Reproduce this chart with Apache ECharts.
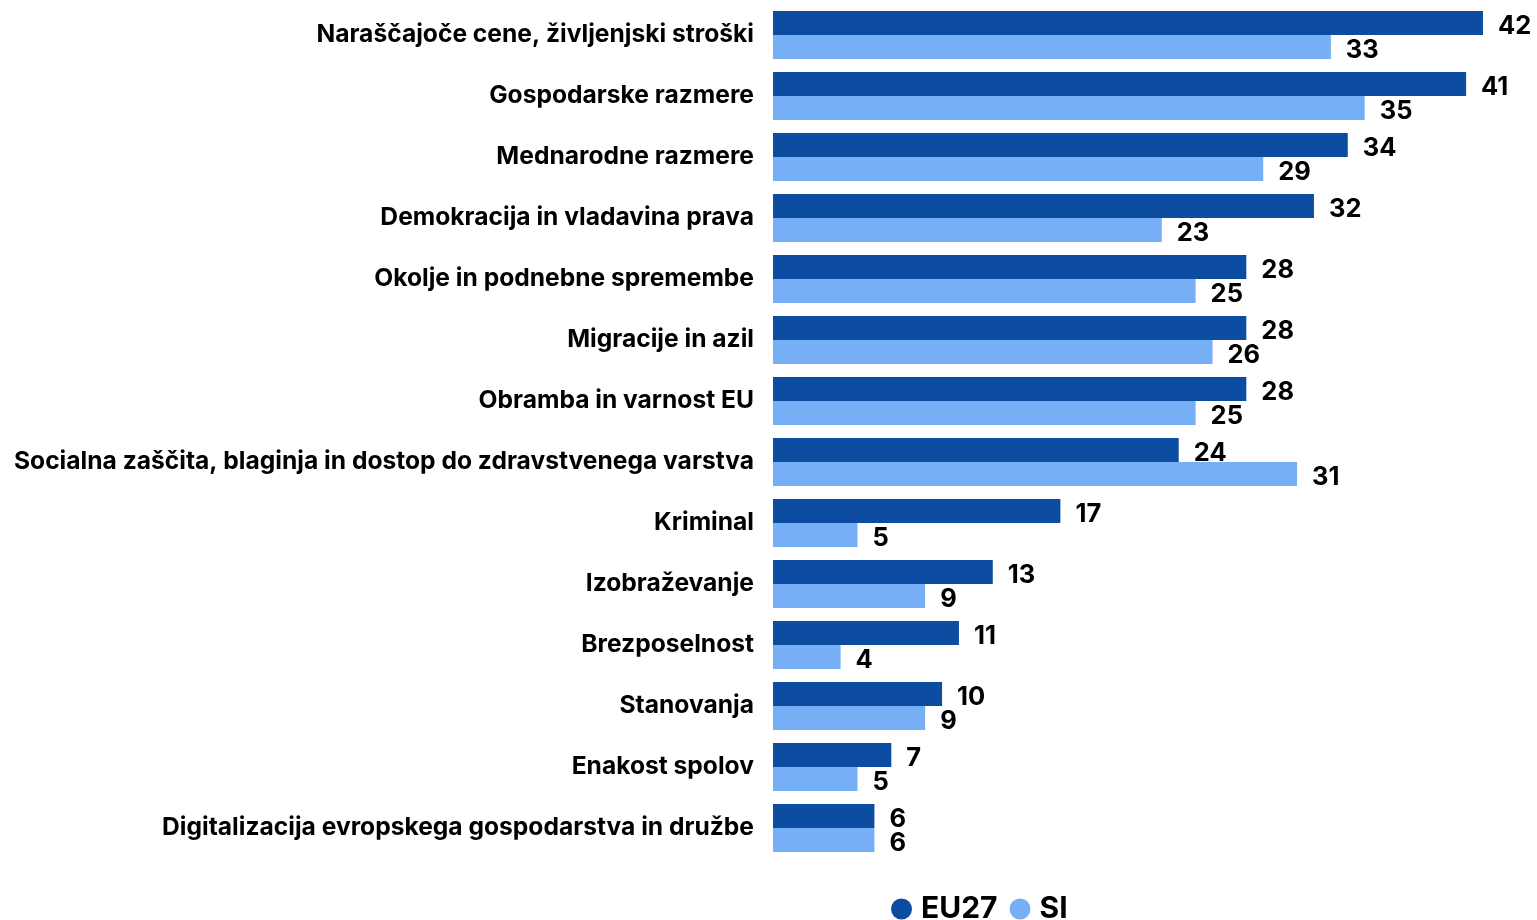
<!DOCTYPE html>
<html>
<head>
<meta charset="utf-8">
<script src="https://cdn.jsdelivr.net/npm/echarts@6/dist/echarts.min.js"></script>
<style>
  html, body { margin: 0; padding: 0; background: #fff; }
  #chart { width: 1537px; height: 920px; }
</style>
</head>
<body>
<div id="chart"></div>
<script>
// data
const categories = [
  'Naraščajoče cene, življenjski stroški',
  'Gospodarske razmere',
  'Mednarodne razmere',
  'Demokracija in vladavina prava',
  'Okolje in podnebne spremembe',
  'Migracije in azil',
  'Obramba in varnost EU',
  'Socialna zaščita, blaginja in dostop do zdravstvenega varstva',
  'Kriminal',
  'Izobraževanje',
  'Brezposelnost',
  'Stanovanja',
  'Enakost spolov',
  'Digitalizacija evropskega gospodarstva in družbe'
]
const eu27 = [42, 41, 34, 32, 28, 28, 28, 24, 17, 13, 11, 10, 7, 6]
const si = [33, 35, 29, 23, 25, 26, 25, 31, 5, 9, 4, 9, 5, 6]

const FONT = 'Inter, "Noto Sans", sans-serif'
const chart = echarts.init(document.getElementById('chart'))

const labelStyle = {
  show: true,
  position: 'right',
  distance: 15,
  offset: [0, 3],
  color: '#000',
  fontWeight: 'bold',
  fontSize: 25.5,
  fontFamily: FONT
}

const option = {
  animation: false,
  grid: {
    left: 773,
    right: 54,
    top: 4.5,
    height: 854,
    containLabel: false
  },
  legend: {
    top: 889,
    left: 886,
    icon: 'circle',
    itemWidth: 21,
    itemHeight: 21,
    itemGap: 12,
    textStyle: {
      fontSize: 30,
      fontWeight: 'bold',
      color: '#000',
      fontFamily: FONT,
      padding: [0, 0, 0, 4]
    },
    data: ['EU27', 'SI']
  },
  xAxis: {
    type: 'value',
    min: 0,
    max: 42,
    show: false
  },
  yAxis: {
    type: 'category',
    inverse: true,
    data: categories,
    axisLine: { show: false },
    axisTick: { show: false },
    axisLabel: {
      margin: 19,
      color: '#000',
      fontSize: 24.6,
      fontWeight: 'bold',
      fontFamily: FONT,
      padding: [4, 0, 0, 0]
    }
  },
  series: [
    {
      name: 'EU27',
      type: 'bar',
      data: eu27,
      barWidth: 24,
      barGap: '0%',
      itemStyle: { color: '#0c4da2' },
      label: labelStyle
    },
    {
      name: 'SI',
      type: 'bar',
      data: si,
      barWidth: 24,
      barGap: '0%',
      itemStyle: { color: '#76aff5' },
      label: labelStyle
    }
  ]
}

chart.setOption(option)
</script>
</body>
</html>
